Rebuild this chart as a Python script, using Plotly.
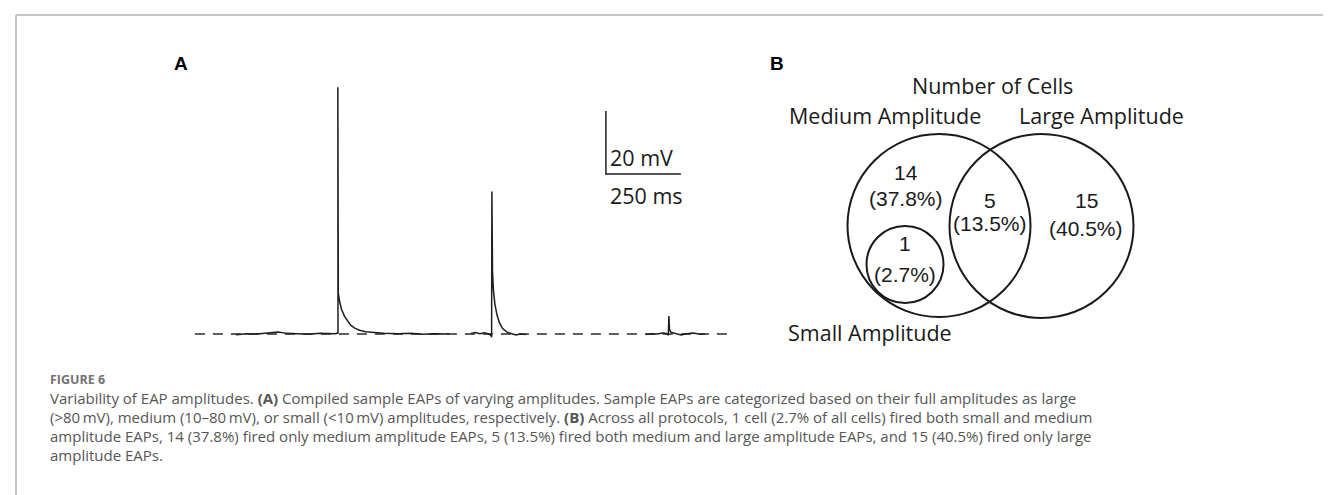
import plotly.graph_objects as go

# ---------------- DATA ----------------
# Panel A: sample EAP traces (time in ms, membrane potential relative to baseline in mV)
large_t = [0, 35, 70, 105, 140, 170, 200, 240, 280, 320, 330, 340, 339.5, 341, 346, 352, 362, 372, 382, 397, 412, 432, 462, 492, 542, 582, 622, 662, 712]
large_v = [-0.2, 0.1, 0.0, 0.3, 0.6, 0.2, 0.1, -0.1, 0.2, 0.0, 0.1, 0.3, 78.3, 13.0, 10.0, 7.8, 5.6, 4.0, 2.8, 1.8, 1.2, 0.7, 0.4, 0.2, 0.1, 0.2, -0.1, 0.1, 0.0]

medium_t = [783, 798, 813, 828, 843, 850, 852, 853, 855, 858, 863, 870, 878, 888, 903, 918, 933, 948, 966]
medium_v = [0.2, 0.5, 0.1, 0.4, 0.0, -0.5, -1.0, 45.2, 20.0, 14.0, 9.5, 6.0, 3.6, 1.8, 0.6, 0.1, -0.3, 0.0, -0.2]

small_t = [1366, 1383, 1403, 1423, 1438, 1441, 1443, 1445, 1449, 1463, 1483, 1503, 1523, 1543, 1563]
small_v = [-0.2, 0.1, 0.0, 0.3, 0.1, -0.4, 5.7, 1.5, 0.6, 0.2, -0.3, 0.1, 0.3, 0.0, -0.1]

baseline_t = [-137, 1640]
baseline_v = [0, 0]

scalebar_mv = 20
scalebar_ms = 250

# Panel B: Venn diagram (number of cells)
set_labels = ["Medium Amplitude", "Large Amplitude", "Small Amplitude"]
region_counts = [14, 5, 15, 1]          # medium only, medium+large, large only, small+medium
region_percents = [37.8, 13.5, 40.5, 2.7]
venn_title = "Number of Cells"

caption_head = "FIGURE 6"
caption_lines = [
    "Variability of EAP amplitudes. <b>(A)</b> Compiled sample EAPs of varying amplitudes. Sample EAPs are categorized based on their full amplitudes as large",
    "(>80\u2009mV), medium (10\u201380\u2009mV), or small (<10\u2009mV) amplitudes, respectively. <b>(B)</b> Across all protocols, 1 cell (2.7% of all cells) fired both small and medium",
    "amplitude EAPs, 14 (37.8%) fired only medium amplitude EAPs, 5 (13.5%) fired both medium and large amplitude EAPs, and 15 (40.5%) fired only large",
    "amplitude EAPs.",
]

# ---------------- LAYOUT CONSTANTS ----------------
W, H = 1331, 495
PX_PER_MS = 0.3
PX_PER_MV = 3.15
T0_PX = 228   # pixel of t = 0 ms
V0_PX = 326   # pixel of 0 mV

def px_x(p):
    return p / W

def px_y(p):
    return 1 - p / H

x_range = [-T0_PX / PX_PER_MS, (W - T0_PX) / PX_PER_MS]
y_range = [-(H - V0_PX) / PX_PER_MV, V0_PX / PX_PER_MV]

trace_color = "#1e1e1e"

fig = go.Figure()

# dashed baseline
fig.add_trace(go.Scatter(x=baseline_t, y=baseline_v, mode="lines",
                         line=dict(color="#2a2a2a", width=1.4, dash="10px,8px"),
                         hoverinfo="skip", showlegend=False))

for tt, vv in [(large_t, large_v), (medium_t, medium_v), (small_t, small_v)]:
    fig.add_trace(go.Scatter(x=tt, y=vv, mode="lines",
                             line=dict(color=trace_color, width=1.5),
                             hoverinfo="skip", showlegend=False))

# scale bar (data units)
sb_t0 = 1233   # ms
sb_v0 = 50.8   # mV
fig.add_trace(go.Scatter(
    x=[sb_t0, sb_t0, sb_t0 + scalebar_ms],
    y=[sb_v0 + scalebar_mv, sb_v0, sb_v0],
    mode="lines", line=dict(color=trace_color, width=1.5),
    hoverinfo="skip", showlegend=False))

annotations = []
label_font = dict(family="Open Sans, Lato, sans-serif", size=21.5, color="#1a1a1a")
num_font = dict(family="Liberation Sans, Arial, sans-serif", size=21, color="#1a1a1a")

def ann(text, x, y, font, xanchor="center", yanchor="middle"):
    annotations.append(dict(text=text, x=px_x(x), y=px_y(y), xref="paper", yref="paper",
                            showarrow=False, font=font, xanchor=xanchor, yanchor=yanchor))

ann(f"{scalebar_mv} mV", 600, 150, label_font, xanchor="left")
ann(f"{scalebar_ms} ms", 600, 187, label_font, xanchor="left")

panel_font = dict(family="Liberation Sans, Arial, sans-serif", size=19, color="#000000", weight="bold")
ann("<b>A</b>", 173, 55, panel_font)
ann("<b>B</b>", 769, 55, panel_font)

# Venn geometry (pixels)
circles = [  # cx, cy, r
    (931, 217.5, 91.5),
    (1033.5, 218, 92),
    (897, 256.5, 38.5),
]
shapes = []
for cx, cy, r in circles:
    shapes.append(dict(type="circle", xref="paper", yref="paper",
                       x0=px_x(cx - r), x1=px_x(cx + r), y0=px_y(cy + r), y1=px_y(cy - r),
                       line=dict(color="#1a1a1a", width=2)))

ann(venn_title, 984, 77, label_font)
ann(set_labels[0], 877, 108, label_font)
ann(set_labels[1], 1093, 108, label_font)
ann(set_labels[2], 862, 324, label_font)

region_pos = [(898, 164, 190), (982, 192, 216), (1078, 192, 220), (897, 236, 266)]
for (x, y1, y2), c, p in zip(region_pos, region_counts, region_percents):
    ann(str(c), x, y1, num_font)
    ann(f"({p}%)", x, y2, num_font)

# caption
ann(caption_head, 40, 371, dict(family="Open Sans, sans-serif", size=12.5, color="#737373", weight="bold"), xanchor="left")
cap_font = dict(family="Open Sans, sans-serif", size=15, color="#565656")
for i, line in enumerate(caption_lines):
    ann(line, 40, 390 + 19 * i, cap_font, xanchor="left")

# border
shapes.append(dict(type="line", xref="paper", yref="paper", x0=px_x(8), x1=1, y0=px_y(7), y1=px_y(7),
                   line=dict(color="#c4c4c4", width=2)))
shapes.append(dict(type="line", xref="paper", yref="paper", x0=px_x(8), x1=px_x(8), y0=px_y(7), y1=0,
                   line=dict(color="#c4c4c4", width=2)))

fig.update_layout(
    width=W, height=H,
    margin=dict(l=0, r=0, t=0, b=0),
    paper_bgcolor="white", plot_bgcolor="white",
    xaxis=dict(range=x_range, visible=False, fixedrange=True),
    yaxis=dict(range=y_range, visible=False, fixedrange=True),
    annotations=annotations,
    shapes=shapes,
    showlegend=False,
)

fig.write_html("out.html")
